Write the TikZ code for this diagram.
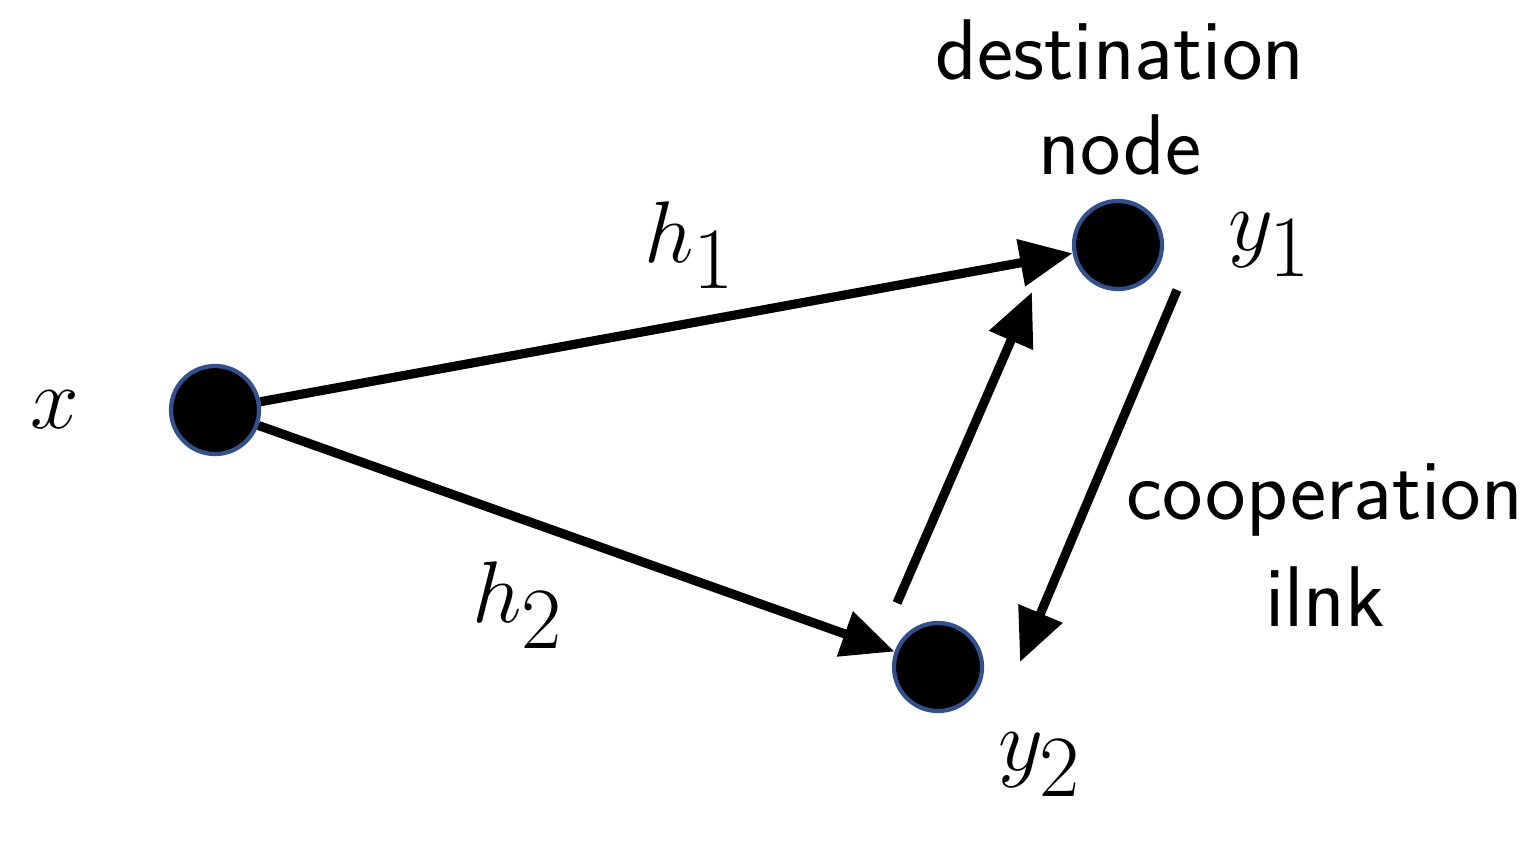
\documentclass[tikz,border=0pt]{standalone}
\usepackage{fontspec}
\usetikzlibrary{arrows.meta}
\begin{document}
\begin{tikzpicture}[x=0.01cm,y=-0.01cm,
  dot/.style={circle,fill=black,draw={rgb,255:red,50;green,80;blue,140},line width=1.2pt,minimum size=0.88cm,inner sep=0},
  arr/.style={line width=2.6pt,-{Triangle[length=15pt,width=13pt]}},
  txt/.style={font=\sffamily\fontsize{24.5}{28}\selectfont,inner sep=0},
  mth/.style={font=\fontsize{48}{52}\selectfont,inner sep=0}]
\useasboundingbox (0,0) rectangle (1534,842);
\node[dot] (x) at (215,410) {};
\node[dot] (y1) at (1118,245) {};
\node[dot] (y2) at (938,667) {};
\coordinate (a1) at (897,603);
\coordinate (b1) at (1032,292);
\coordinate (a2) at (1177,290);
\coordinate (b2) at (1020,662);
\draw[arr] (x) -- (y1);
\draw[arr] (x) -- (y2);
\draw[arr] (a1) -- (b1);
\draw[arr] (a2) -- (b2);
\node[mth] (lx) at (55,410) {$x$};
\node[mth] (ly1) at (1270,245) {$y_1$};
\node[mth] (ly2) at (1040,765) {$y_2$};
\node[mth] (lh1) at (690,245) {$h_1$};
\node[mth] (lh2) at (518,605) {$h_2$};
\node[txt] (d1) at (1120,50) {destination};
\node[txt] (d2) at (1120,145) {node};
\node[txt] (c1) at (1325,500) {cooperation};
\node[txt] (c2) at (1325,597) {ilnk};
\end{tikzpicture}
\end{document}
